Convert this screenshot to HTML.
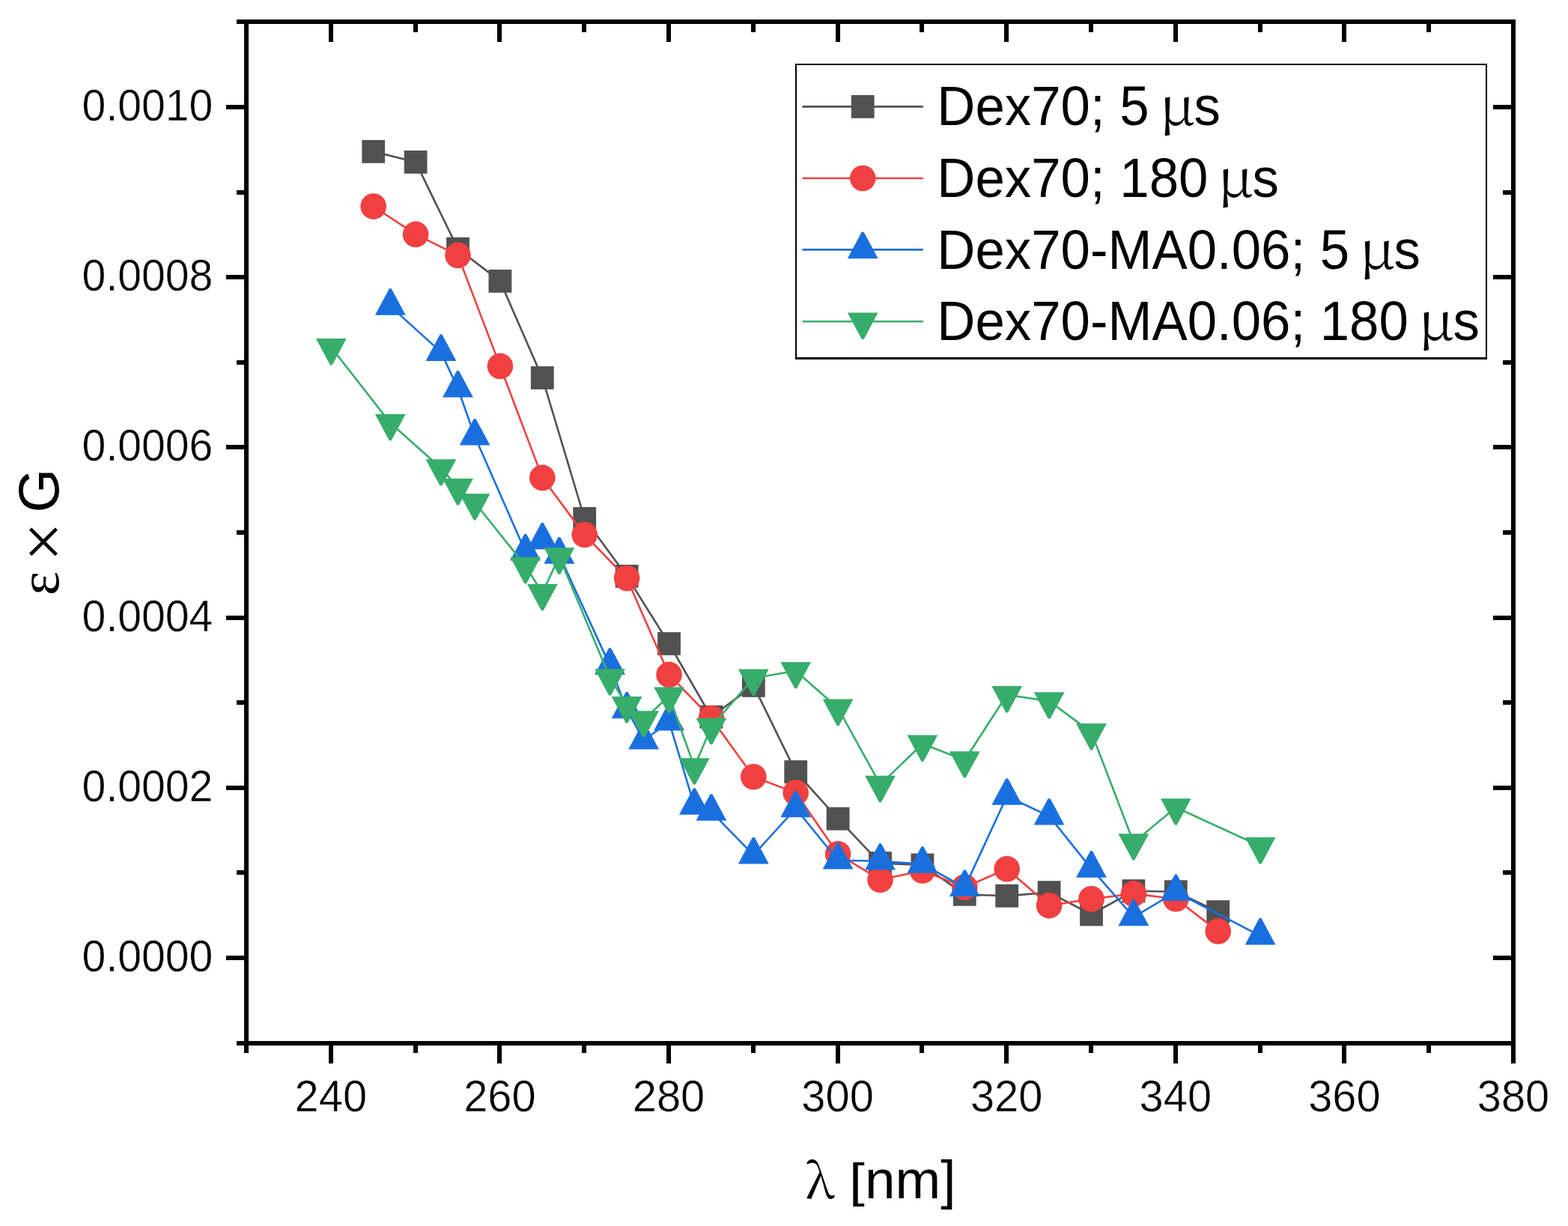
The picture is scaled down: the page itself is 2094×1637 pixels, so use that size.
<!DOCTYPE html>
<html><head><meta charset="utf-8"><title>plot</title>
<style>html,body{margin:0;padding:0;background:#fff;overflow:hidden}svg{display:block}</style>
</head><body>
<svg width="2094" height="1637" viewBox="0 0 2094 1637">
<rect width="2094" height="1637" fill="#fff"/>
<polyline points="498.7,202.4 555.1,216.4 611.5,332.3 667.9,375.4 724.3,504.5 780.7,692.5 837.1,769.4 893.5,859.5 949.9,957.3 1006.3,915.4 1062.7,1030.6 1119.1,1093.2 1175.5,1152.6 1231.9,1155 1288.3,1194.2 1344.7,1196.2 1401.1,1191.6 1457.5,1221 1513.9,1189.6 1570.3,1190.7 1626.7,1217.5" fill="none" stroke="#515151" stroke-width="2.6" stroke-linejoin="round"/>
<rect x="483.3" y="187" width="30.8" height="30.8" fill="#515151"/>
<rect x="539.7" y="201" width="30.8" height="30.8" fill="#515151"/>
<rect x="596.1" y="316.9" width="30.8" height="30.8" fill="#515151"/>
<rect x="652.5" y="360" width="30.8" height="30.8" fill="#515151"/>
<rect x="708.9" y="489.1" width="30.8" height="30.8" fill="#515151"/>
<rect x="765.3" y="677.1" width="30.8" height="30.8" fill="#515151"/>
<rect x="821.7" y="754" width="30.8" height="30.8" fill="#515151"/>
<rect x="878.1" y="844.1" width="30.8" height="30.8" fill="#515151"/>
<rect x="934.5" y="941.9" width="30.8" height="30.8" fill="#515151"/>
<rect x="990.9" y="900" width="30.8" height="30.8" fill="#515151"/>
<rect x="1047.3" y="1015.2" width="30.8" height="30.8" fill="#515151"/>
<rect x="1103.7" y="1077.8" width="30.8" height="30.8" fill="#515151"/>
<rect x="1160.1" y="1137.2" width="30.8" height="30.8" fill="#515151"/>
<rect x="1216.5" y="1139.6" width="30.8" height="30.8" fill="#515151"/>
<rect x="1272.9" y="1178.8" width="30.8" height="30.8" fill="#515151"/>
<rect x="1329.3" y="1180.8" width="30.8" height="30.8" fill="#515151"/>
<rect x="1385.7" y="1176.2" width="30.8" height="30.8" fill="#515151"/>
<rect x="1442.1" y="1205.6" width="30.8" height="30.8" fill="#515151"/>
<rect x="1498.5" y="1174.2" width="30.8" height="30.8" fill="#515151"/>
<rect x="1554.9" y="1175.3" width="30.8" height="30.8" fill="#515151"/>
<rect x="1611.3" y="1202.1" width="30.8" height="30.8" fill="#515151"/>
<polyline points="498.7,275.6 555.1,312.9 611.5,340.9 667.9,488.9 724.3,637.9 780.7,714 837.1,772.1 893.5,900.9 949.9,959 1006.3,1037.2 1062.7,1058.6 1119.1,1140.3 1175.5,1174.7 1231.9,1162.5 1288.3,1184.6 1344.7,1160.3 1401.1,1209.1 1457.5,1200.3 1513.9,1193.4 1570.3,1200.2 1626.7,1243.4" fill="none" stroke="#F14040" stroke-width="2.6" stroke-linejoin="round"/>
<circle cx="498.7" cy="275.6" r="17.3" fill="#F14040"/>
<circle cx="555.1" cy="312.9" r="17.3" fill="#F14040"/>
<circle cx="611.5" cy="340.9" r="17.3" fill="#F14040"/>
<circle cx="667.9" cy="488.9" r="17.3" fill="#F14040"/>
<circle cx="724.3" cy="637.9" r="17.3" fill="#F14040"/>
<circle cx="780.7" cy="714" r="17.3" fill="#F14040"/>
<circle cx="837.1" cy="772.1" r="17.3" fill="#F14040"/>
<circle cx="893.5" cy="900.9" r="17.3" fill="#F14040"/>
<circle cx="949.9" cy="959" r="17.3" fill="#F14040"/>
<circle cx="1006.3" cy="1037.2" r="17.3" fill="#F14040"/>
<circle cx="1062.7" cy="1058.6" r="17.3" fill="#F14040"/>
<circle cx="1119.1" cy="1140.3" r="17.3" fill="#F14040"/>
<circle cx="1175.5" cy="1174.7" r="17.3" fill="#F14040"/>
<circle cx="1231.9" cy="1162.5" r="17.3" fill="#F14040"/>
<circle cx="1288.3" cy="1184.6" r="17.3" fill="#F14040"/>
<circle cx="1344.7" cy="1160.3" r="17.3" fill="#F14040"/>
<circle cx="1401.1" cy="1209.1" r="17.3" fill="#F14040"/>
<circle cx="1457.5" cy="1200.3" r="17.3" fill="#F14040"/>
<circle cx="1513.9" cy="1193.4" r="17.3" fill="#F14040"/>
<circle cx="1570.3" cy="1200.2" r="17.3" fill="#F14040"/>
<circle cx="1626.7" cy="1243.4" r="17.3" fill="#F14040"/>
<polyline points="521.26,408.9 588.94,470.1 611.5,518.7 634.06,582.8 701.74,736.7 724.3,721.6 746.86,740.9 814.54,888.9 837.1,947.5 859.66,988.7 893.5,963.7 927.34,1076 949.9,1083.9 1006.3,1141.6 1062.7,1079.5 1119.1,1148.8 1175.5,1149.8 1231.9,1153.9 1288.3,1185.1 1344.7,1063 1401.1,1089.8 1457.5,1159.9 1513.9,1224.4 1570.3,1191 1683.1,1249.6" fill="none" stroke="#1A6FDF" stroke-width="2.6" stroke-linejoin="round"/>
<polygon points="519.86,385.3 522.66,385.3 541.66,420.7 500.86,420.7" fill="#1A6FDF"/>
<polygon points="587.54,446.5 590.34,446.5 609.34,481.9 568.54,481.9" fill="#1A6FDF"/>
<polygon points="610.1,495.1 612.9,495.1 631.9,530.5 591.1,530.5" fill="#1A6FDF"/>
<polygon points="632.66,559.2 635.46,559.2 654.46,594.6 613.66,594.6" fill="#1A6FDF"/>
<polygon points="700.34,713.1 703.14,713.1 722.14,748.5 681.34,748.5" fill="#1A6FDF"/>
<polygon points="722.9,698 725.7,698 744.7,733.4 703.9,733.4" fill="#1A6FDF"/>
<polygon points="745.46,717.3 748.26,717.3 767.26,752.7 726.46,752.7" fill="#1A6FDF"/>
<polygon points="813.14,865.3 815.94,865.3 834.94,900.7 794.14,900.7" fill="#1A6FDF"/>
<polygon points="835.7,923.9 838.5,923.9 857.5,959.3 816.7,959.3" fill="#1A6FDF"/>
<polygon points="858.26,965.1 861.06,965.1 880.06,1000.5 839.26,1000.5" fill="#1A6FDF"/>
<polygon points="892.1,940.1 894.9,940.1 913.9,975.5 873.1,975.5" fill="#1A6FDF"/>
<polygon points="925.94,1052.4 928.74,1052.4 947.74,1087.8 906.94,1087.8" fill="#1A6FDF"/>
<polygon points="948.5,1060.3 951.3,1060.3 970.3,1095.7 929.5,1095.7" fill="#1A6FDF"/>
<polygon points="1004.9,1118 1007.7,1118 1026.7,1153.4 985.9,1153.4" fill="#1A6FDF"/>
<polygon points="1061.3,1055.9 1064.1,1055.9 1083.1,1091.3 1042.3,1091.3" fill="#1A6FDF"/>
<polygon points="1117.7,1125.2 1120.5,1125.2 1139.5,1160.6 1098.7,1160.6" fill="#1A6FDF"/>
<polygon points="1174.1,1126.2 1176.9,1126.2 1195.9,1161.6 1155.1,1161.6" fill="#1A6FDF"/>
<polygon points="1230.5,1130.3 1233.3,1130.3 1252.3,1165.7 1211.5,1165.7" fill="#1A6FDF"/>
<polygon points="1286.9,1161.5 1289.7,1161.5 1308.7,1196.9 1267.9,1196.9" fill="#1A6FDF"/>
<polygon points="1343.3,1039.4 1346.1,1039.4 1365.1,1074.8 1324.3,1074.8" fill="#1A6FDF"/>
<polygon points="1399.7,1066.2 1402.5,1066.2 1421.5,1101.6 1380.7,1101.6" fill="#1A6FDF"/>
<polygon points="1456.1,1136.3 1458.9,1136.3 1477.9,1171.7 1437.1,1171.7" fill="#1A6FDF"/>
<polygon points="1512.5,1200.8 1515.3,1200.8 1534.3,1236.2 1493.5,1236.2" fill="#1A6FDF"/>
<polygon points="1568.9,1167.4 1571.7,1167.4 1590.7,1202.8 1549.9,1202.8" fill="#1A6FDF"/>
<polygon points="1681.7,1226 1684.5,1226 1703.5,1261.4 1662.7,1261.4" fill="#1A6FDF"/>
<polyline points="442.3,463.8 521.26,564.7 588.94,625 611.5,650.9 634.06,671 701.74,755.6 724.3,791.6 746.86,743.1 814.54,905 837.1,941.8 859.66,961 893.5,929.2 927.34,1024 949.9,970.5 1006.3,905.4 1062.7,895.7 1119.1,945.4 1175.5,1047.6 1231.9,993.2 1288.3,1015 1344.7,927.8 1401.1,936.1 1457.5,977.9 1513.9,1125 1570.3,1078 1683.1,1129.9" fill="none" stroke="#37AD6B" stroke-width="2.6" stroke-linejoin="round"/>
<polygon points="421.9,452 462.7,452 443.7,487.4 440.9,487.4" fill="#37AD6B"/>
<polygon points="500.86,552.9 541.66,552.9 522.66,588.3 519.86,588.3" fill="#37AD6B"/>
<polygon points="568.54,613.2 609.34,613.2 590.34,648.6 587.54,648.6" fill="#37AD6B"/>
<polygon points="591.1,639.1 631.9,639.1 612.9,674.5 610.1,674.5" fill="#37AD6B"/>
<polygon points="613.66,659.2 654.46,659.2 635.46,694.6 632.66,694.6" fill="#37AD6B"/>
<polygon points="681.34,743.8 722.14,743.8 703.14,779.2 700.34,779.2" fill="#37AD6B"/>
<polygon points="703.9,779.8 744.7,779.8 725.7,815.2 722.9,815.2" fill="#37AD6B"/>
<polygon points="726.46,731.3 767.26,731.3 748.26,766.7 745.46,766.7" fill="#37AD6B"/>
<polygon points="794.14,893.2 834.94,893.2 815.94,928.6 813.14,928.6" fill="#37AD6B"/>
<polygon points="816.7,930 857.5,930 838.5,965.4 835.7,965.4" fill="#37AD6B"/>
<polygon points="839.26,949.2 880.06,949.2 861.06,984.6 858.26,984.6" fill="#37AD6B"/>
<polygon points="873.1,917.4 913.9,917.4 894.9,952.8 892.1,952.8" fill="#37AD6B"/>
<polygon points="906.94,1012.2 947.74,1012.2 928.74,1047.6 925.94,1047.6" fill="#37AD6B"/>
<polygon points="929.5,958.7 970.3,958.7 951.3,994.1 948.5,994.1" fill="#37AD6B"/>
<polygon points="985.9,893.6 1026.7,893.6 1007.7,929 1004.9,929" fill="#37AD6B"/>
<polygon points="1042.3,883.9 1083.1,883.9 1064.1,919.3 1061.3,919.3" fill="#37AD6B"/>
<polygon points="1098.7,933.6 1139.5,933.6 1120.5,969 1117.7,969" fill="#37AD6B"/>
<polygon points="1155.1,1035.8 1195.9,1035.8 1176.9,1071.2 1174.1,1071.2" fill="#37AD6B"/>
<polygon points="1211.5,981.4 1252.3,981.4 1233.3,1016.8 1230.5,1016.8" fill="#37AD6B"/>
<polygon points="1267.9,1003.2 1308.7,1003.2 1289.7,1038.6 1286.9,1038.6" fill="#37AD6B"/>
<polygon points="1324.3,916 1365.1,916 1346.1,951.4 1343.3,951.4" fill="#37AD6B"/>
<polygon points="1380.7,924.3 1421.5,924.3 1402.5,959.7 1399.7,959.7" fill="#37AD6B"/>
<polygon points="1437.1,966.1 1477.9,966.1 1458.9,1001.5 1456.1,1001.5" fill="#37AD6B"/>
<polygon points="1493.5,1113.2 1534.3,1113.2 1515.3,1148.6 1512.5,1148.6" fill="#37AD6B"/>
<polygon points="1549.9,1066.2 1590.7,1066.2 1571.7,1101.6 1568.9,1101.6" fill="#37AD6B"/>
<polygon points="1662.7,1118.1 1703.5,1118.1 1684.5,1153.5 1681.7,1153.5" fill="#37AD6B"/>
<rect x="329" y="29" width="1692" height="1364" fill="none" stroke="#000" stroke-width="6"/>
<path d="M316,1393H326 M2018,1393H2007 M302,1279H326 M2018,1279H1994 M316,1165H326 M2018,1165H2007 M302,1052H326 M2018,1052H1994 M316,938H326 M2018,938H2007 M302,825H326 M2018,825H1994 M316,711H326 M2018,711H2007 M302,597H326 M2018,597H1994 M316,484H326 M2018,484H2007 M302,370H326 M2018,370H1994 M316,257H326 M2018,257H2007 M302,143H326 M2018,143H1994 M316,29H326 M2018,29H2007 M329,1396V1406 M329,32V43 M442,1396V1420 M442,32V56 M555,1396V1406 M555,32V43 M667,1396V1420 M667,32V56 M780,1396V1406 M780,32V43 M893,1396V1420 M893,32V56 M1006,1396V1406 M1006,32V43 M1119,1396V1420 M1119,32V56 M1231,1396V1406 M1231,32V43 M1344,1396V1420 M1344,32V56 M1457,1396V1406 M1457,32V43 M1570,1396V1420 M1570,32V56 M1683,1396V1406 M1683,32V43 M1795,1396V1420 M1795,32V56 M1908,1396V1406 M1908,32V43 M2021,1396V1420 M2021,32V56" stroke="#000" stroke-width="6" fill="none"/>
<g font-family="Liberation Sans, Arial, sans-serif" font-size="58.5" fill="#000" stroke="#fff" stroke-width="0.5"><text transform="translate(284.4,1296.9) scale(0.977,1)" text-anchor="end">0.0000</text><text transform="translate(284.4,1069.7) scale(0.977,1)" text-anchor="end">0.0002</text><text transform="translate(284.4,842.5) scale(0.977,1)" text-anchor="end">0.0004</text><text transform="translate(284.4,615.3) scale(0.977,1)" text-anchor="end">0.0006</text><text transform="translate(284.4,388.1) scale(0.977,1)" text-anchor="end">0.0008</text><text transform="translate(284.4,160.9) scale(0.977,1)" text-anchor="end">0.0010</text><text transform="translate(441.8,1483.9) scale(0.989,1)" text-anchor="middle">240</text><text transform="translate(667.4,1483.9) scale(0.989,1)" text-anchor="middle">260</text><text transform="translate(893,1483.9) scale(0.989,1)" text-anchor="middle">280</text><text transform="translate(1118.6,1483.9) scale(0.989,1)" text-anchor="middle">300</text><text transform="translate(1344.2,1483.9) scale(0.989,1)" text-anchor="middle">320</text><text transform="translate(1569.8,1483.9) scale(0.989,1)" text-anchor="middle">340</text><text transform="translate(1795.4,1483.9) scale(0.989,1)" text-anchor="middle">360</text><text transform="translate(2021,1483.9) scale(0.989,1)" text-anchor="middle">380</text></g>
<text font-family="Liberation Sans, Arial, sans-serif" font-size="72.8"><tspan x="1075.8" y="1599.5" font-family="Noto Serif CJK SC, Liberation Serif, serif" font-size="64.6" textLength="38.4" lengthAdjust="spacingAndGlyphs">λ</tspan> <tspan x="1134" y="1597.6" font-size="62.8" textLength="20.77" lengthAdjust="spacingAndGlyphs">[</tspan><tspan x="1155" y="1600">nm]</tspan></text>
<text transform="translate(78,795) rotate(-90)" font-family="Liberation Sans, Arial, sans-serif"><tspan x="0" y="0" font-family="Liberation Serif, Times New Roman, serif" font-size="76.3">ε</tspan><tspan x="45.6" y="11" font-family="Liberation Serif, Times New Roman, serif" font-size="92.5">×</tspan><tspan x="110.4" y="0.4" font-size="75.5">G</tspan></text>
<path d="M1062,85H1986V87H1062Z M1062,477H1986V480H1062Z M1062,85H1064V480H1062Z M1984,85H1986V480H1984Z" fill="#000"/>
<line x1="1071.5" y1="142.4" x2="1232.8" y2="142.4" stroke="#515151" stroke-width="2.6"/>
<rect x="1136.8" y="127" width="30.8" height="30.8" fill="#515151"/>
<text y="167" font-family="Liberation Sans, Arial, sans-serif" font-size="73.5"><tspan x="1251.34" textLength="283.3" lengthAdjust="spacingAndGlyphs">Dex70; 5</tspan> <tspan x="1548.28" font-family="Noto Serif CJK SC, Liberation Serif, serif" font-size="69.9" textLength="47.7" lengthAdjust="spacingAndGlyphs">μ</tspan><tspan x="1594.44" textLength="35.39" lengthAdjust="spacingAndGlyphs">s</tspan></text>
<line x1="1071.5" y1="238" x2="1232.8" y2="238" stroke="#F14040" stroke-width="2.6"/>
<circle cx="1152.2" cy="238" r="17.3" fill="#F14040"/>
<text y="263" font-family="Liberation Sans, Arial, sans-serif" font-size="73.5"><tspan x="1251.34" textLength="362.03" lengthAdjust="spacingAndGlyphs">Dex70; 180</tspan> <tspan x="1626.08" font-family="Noto Serif CJK SC, Liberation Serif, serif" font-size="69.9" textLength="47.7" lengthAdjust="spacingAndGlyphs">μ</tspan><tspan x="1672.44" textLength="35.39" lengthAdjust="spacingAndGlyphs">s</tspan></text>
<line x1="1071.5" y1="333.4" x2="1232.8" y2="333.4" stroke="#1A6FDF" stroke-width="2.6"/>
<polygon points="1150.8,309.8 1153.6,309.8 1172.6,345.2 1131.8,345.2" fill="#1A6FDF"/>
<text y="359" font-family="Liberation Sans, Arial, sans-serif" font-size="73.5"><tspan x="1251.34" textLength="550.81" lengthAdjust="spacingAndGlyphs">Dex70-MA0.06; 5</tspan> <tspan x="1815.18" font-family="Noto Serif CJK SC, Liberation Serif, serif" font-size="69.9" textLength="47.7" lengthAdjust="spacingAndGlyphs">μ</tspan><tspan x="1861.54" textLength="35.39" lengthAdjust="spacingAndGlyphs">s</tspan></text>
<line x1="1071.5" y1="429.3" x2="1232.8" y2="429.3" stroke="#37AD6B" stroke-width="2.6"/>
<polygon points="1131.8,417.5 1172.6,417.5 1153.6,452.9 1150.8,452.9" fill="#37AD6B"/>
<text y="454" font-family="Liberation Sans, Arial, sans-serif" font-size="73.5"><tspan x="1251.34" textLength="629.53" lengthAdjust="spacingAndGlyphs">Dex70-MA0.06; 180</tspan> <tspan x="1894.08" font-family="Noto Serif CJK SC, Liberation Serif, serif" font-size="69.9" textLength="47.7" lengthAdjust="spacingAndGlyphs">μ</tspan><tspan x="1940.54" textLength="35.39" lengthAdjust="spacingAndGlyphs">s</tspan></text>
</svg>
</body></html>
